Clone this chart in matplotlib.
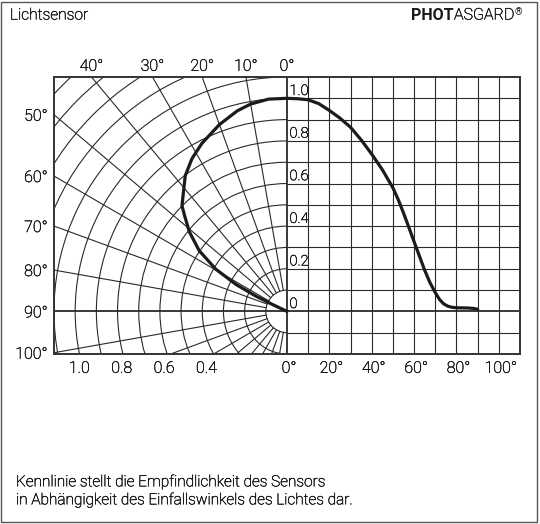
import numpy as np
import matplotlib
matplotlib.use("Agg")
import matplotlib.pyplot as plt
import matplotlib.patheffects as pe
from matplotlib.patches import Arc, Rectangle

plt.rcParams["font.family"] = ["Roboto", "DejaVu Sans"]

# right half: sensitivity vs. angle of incidence (cartesian)
angle_deg = [0, 5, 10, 15, 20, 25, 30, 35, 40, 45, 50, 52.5, 55, 57.5, 60, 62.5,
             65, 67.5, 70, 72, 74, 76, 78, 80, 85, 88, 90]
sens = [1.0, 0.998, 0.993, 0.975, 0.943, 0.907, 0.864, 0.805, 0.738, 0.665,
        0.58, 0.525, 0.462, 0.395, 0.327, 0.26, 0.193, 0.135, 0.088, 0.056,
        0.035, 0.024, 0.019, 0.017, 0.016, 0.014, 0.01]

# left half: same characteristic as drawn in the polar diagram
polar_deg = [0, 5, 10, 14, 20, 27, 32, 37, 41, 45, 47, 51, 55.5, 59.5, 62.3, 64, 64.7, 65]
polar_r = [1.0, 1.0, 0.988, 0.97, 0.933, 0.885, 0.846, 0.798, 0.745, 0.701,
           0.662, 0.593, 0.503, 0.39, 0.272, 0.162, 0.074, 0.0]

top_labels = ["40°", "30°", "20°", "10°", "0°"]
top_angles = [40, 30, 20, 10, 0]
left_labels = ["50°", "60°", "70°", "80°", "90°", "100°"]
left_angles = [50, 60, 70, 80, 90, 100]
radius_labels = ["1.0", "0.8", "0.6", "0.4"]
radius_ticks = [1.0, 0.8, 0.6, 0.4]
xdeg_labels = ["0°", "20°", "40°", "60°", "80°", "100°"]
xdeg_ticks = [0, 20, 40, 60, 80, 100]
ylabels = ["1.0", "0.8", "0.6", "0.4", "0.2", "0"]
yticks = [1.0, 0.8, 0.6, 0.4, 0.2, 0.0]

GRID = "#2a2a2a"
INK = "#1c1a1a"
TXT = "#1a1a1a"
X0, X1, Y0, Y1 = -1.1, 1.1, -0.2, 1.1
# light face with a hairline stroke ~ the book weight of the original
FX = [pe.withStroke(linewidth=0.35, foreground=TXT)]

fig = plt.figure(figsize=(5.4, 5.24), dpi=100)
ax = fig.add_axes([54 / 540, 1 - 354 / 524, 466 / 540, 277 / 524])
ax.set_xlim(X0, X1)
ax.set_ylim(Y0, Y1)
ax.set_xticks([]); ax.set_yticks([])
for s in ax.spines.values():
    s.set_color("#333333"); s.set_linewidth(1.4)

# polar grid (left half): circles every 0.1 and rays every 10 deg
for i in range(1, 17):
    r = i / 10
    ax.add_patch(Arc((0, 0), 2 * r, 2 * r, theta1=90, theta2=270,
                     color=GRID, lw=0.8))
for a in range(10, 180, 10):
    if a == 90:
        continue
    t = np.radians(a)
    ax.plot([-0.1 * np.sin(t), -2 * np.sin(t)], [0.1 * np.cos(t), 2 * np.cos(t)],
            color=GRID, lw=0.8)

# cartesian grid (right half), 10 deg x 0.1
for k in range(1, 11):
    ax.axvline(k / 10, color=GRID, lw=0.8)
for k in range(-2, 11):
    if k != 0:
        ax.hlines(k / 10, 0, X1, color=GRID, lw=0.8)
ax.axhline(0, color=GRID, lw=1.3)
ax.axvline(0, color=GRID, lw=1.3)

# curves
pt = np.radians(polar_deg)
pr = np.array(polar_r)
ax.plot(-pr * np.sin(pt), pr * np.cos(pt), color=INK, lw=2.3,
        solid_capstyle="round", solid_joinstyle="round", zorder=5)
ax.plot(np.array(angle_deg) / 100, sens, color=INK, lw=2.3,
        solid_capstyle="round", solid_joinstyle="round", zorder=5)

tk = dict(fontsize=11.5, color=TXT, fontweight="light", path_effects=FX,
          annotation_clip=False)
for lab, a in zip(top_labels, top_angles):
    ax.annotate(lab, (-Y1 * np.tan(np.radians(a)), Y1), xytext=(0, 4.5),
                textcoords="offset points", ha="center", va="baseline", **tk)
for lab, a in zip(left_labels, left_angles):
    ax.annotate(lab, (X0, -X0 / np.tan(np.radians(a))), xytext=(-4.5, -4.3),
                textcoords="offset points", ha="right", va="baseline", **tk)
for lab, r in zip(radius_labels, radius_ticks):
    ax.annotate(lab, (-r, Y0), xytext=(3, -13.5),
                textcoords="offset points", ha="center", va="baseline", **tk)
for lab, d in zip(xdeg_labels, xdeg_ticks):
    ax.annotate(lab, (d / 100, Y0), xytext=(1.5, -13.5),
                textcoords="offset points", ha="center", va="baseline", **tk)
for lab, v in zip(ylabels, yticks):
    ax.annotate(lab, (0, v), xytext=(1.8, 2.4), textcoords="offset points",
                ha="left", va="baseline", fontsize=10.5, color=TXT,
                fontweight="light", path_effects=FX)

# header / footer
HEAD_Y = 1 - 15 / 524
fig.text(10 / 540, HEAD_Y, "Lichtsensor", fontsize=11.2, va="center",
         color=TXT, fontweight="light", path_effects=FX)
reg = fig.text(522 / 540, 1 - 12 / 524, "®", fontsize=7, ha="right",
               va="center", color=TXT)
asg = ax.annotate("ASGARD", (0, HEAD_Y), xycoords=(reg, "figure fraction"),
                  ha="right", va="center", fontsize=11.5, color=TXT,
                  fontweight="light", path_effects=FX, annotation_clip=False)
ax.annotate("PHOT", (0, HEAD_Y), xycoords=(asg, "figure fraction"),
            ha="right", va="center", fontsize=11.5, fontweight="bold",
            color=TXT, annotation_clip=False)
fig.text(16 / 540, 1 - 482 / 524,
         "Kennlinie stellt die Empfindlichkeit des Sensors", fontsize=11.1,
         va="center", color=TXT, fontweight="light", path_effects=FX)
fig.text(16 / 540, 1 - 500 / 524,
         "in Abhängigkeit des Einfallswinkels des Lichtes dar.", fontsize=11.1,
         va="center", color=TXT, fontweight="light", path_effects=FX)

fig.patches.append(Rectangle((0.002, 0.004), 0.993, 0.993, transform=fig.transFigure,
                             fill=False, ec="#555555", lw=1.0))

fig.savefig("out.png", dpi=100)
